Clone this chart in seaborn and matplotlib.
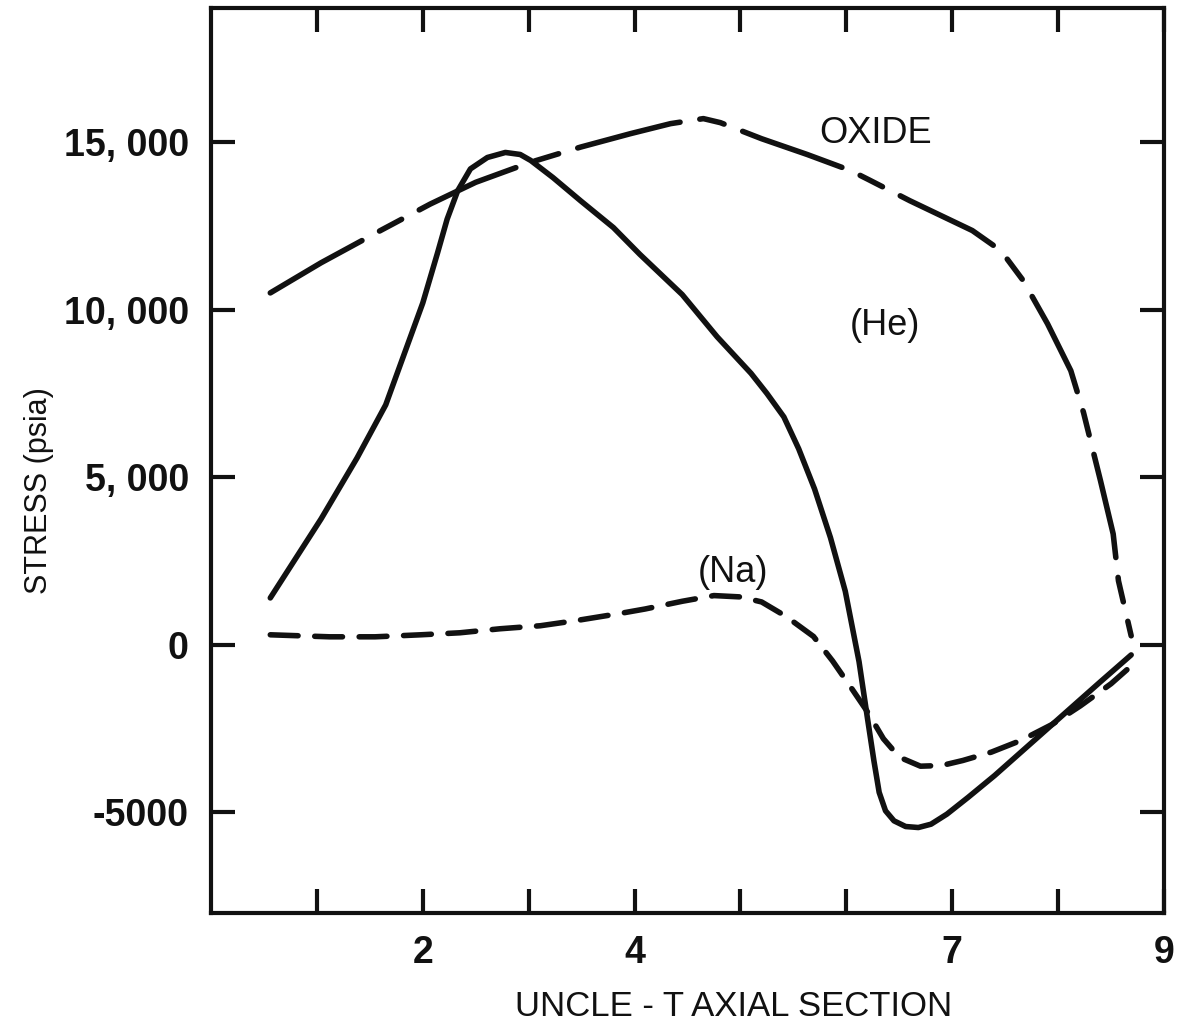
import matplotlib
matplotlib.use("Agg")
import matplotlib.pyplot as plt
from matplotlib import font_manager
import seaborn as sns
import numpy as np
import pandas as pd

# ---- data ----
he_x = [0.56, 1.04, 1.38, 1.65, 2.00, 2.14, 2.23, 2.33, 2.45, 2.61, 2.78, 2.92, 3.02, 3.23,
        3.49, 3.80, 4.05, 4.45, 4.78, 5.10, 5.25, 5.41, 5.55, 5.70, 5.85, 5.99, 6.12, 6.20,
        6.26, 6.31, 6.37, 6.45, 6.56, 6.68, 6.80, 6.95, 7.15, 7.40, 7.65, 7.90, 8.15, 8.40,
        8.69]
he_y = [1400, 3760, 5580, 7160, 10200, 11700, 12700, 13550, 14200, 14540, 14690, 14630, 14450, 13940,
        13250, 12450, 11650, 10450, 9190, 8100, 7500, 6800, 5850, 4650, 3200, 1600, -500, -2200,
        -3450, -4400, -4950, -5250, -5420, -5450, -5350, -5050, -4550, -3900, -3200, -2500, -1800, -1100,
        -300]

oxide_x = [0.56, 1.04, 1.60, 2.07, 2.50, 3.02, 3.49, 3.96, 4.34, 4.65, 4.81, 5.20, 5.63,
           6.04, 6.21, 6.60, 7.19, 7.46, 7.67, 7.90, 8.12, 8.24, 8.40, 8.52, 8.57, 8.69]
oxide_y = [10500, 11400, 12360, 13150, 13800, 14400, 14850, 15250, 15550, 15700, 15580, 15100, 14630,
           14150, 13880, 13250, 12360, 11760, 10870, 9580, 8180, 6930, 4900, 3310, 1910, 270]

na_x = [0.56, 1.12, 1.55, 1.98, 2.35, 2.73, 3.11, 3.44, 3.85, 4.10, 4.45, 4.75, 5.00, 5.20,
        5.43, 5.69, 5.87, 6.05, 6.20, 6.35, 6.50, 6.70, 6.90, 7.10, 7.37, 7.65, 7.94, 8.21,
        8.50, 8.69]
na_y = [300, 240, 240, 300, 360, 480, 570, 720, 930, 1070, 1300, 1470, 1430, 1280,
        850, 250, -480, -1300, -2000, -2800, -3350, -3620, -3600, -3450, -3200, -2850, -2380, -1820,
        -1160, -630]

x_ticks = [1, 2, 3, 4, 5, 6, 7, 8, 9]
x_ticklabels = ["", "2", "", "4", "", "", "7", "", "9"]
y_ticks = [15000, 10000, 5000, 0, -5000]
y_ticklabels = ["15, 000", "10, 000", "5, 000", "0", "-5000"]

sns.set_theme(style="ticks")
installed = {f.name for f in font_manager.fontManager.ttflist}
if "Liberation Sans Narrow" in installed:
    fam, k = "Liberation Sans Narrow", 1.2
else:
    fam, k = "Liberation Sans", 1.0
plt.rcParams["font.family"] = [fam, "DejaVu Sans"]

fig = plt.figure(figsize=(11.89, 10.34), dpi=100)
ax = fig.add_axes([211 / 1189, 1 - 913 / 1034, (1164 - 211) / 1189, (913 - 8) / 1034])

ink = "#111111"
lw = 4.0
sns.lineplot(x=he_x, y=he_y, ax=ax, color=ink, lw=lw, sort=False,
             estimator=None, solid_capstyle="round", solid_joinstyle="round")
l_ox = sns.lineplot(x=oxide_x, y=oxide_y, ax=ax, color=ink, lw=lw, sort=False,
                    estimator=None).lines[-1]
l_ox.set_dashes([19, 3.6, 4.5, 3.6])
l_ox.set_dash_capstyle("round")
l_na = sns.lineplot(x=na_x, y=na_y, ax=ax, color=ink, lw=lw, sort=False,
                    estimator=None).lines[-1]
l_na.set_dashes([5, 3])
l_na.set_dash_capstyle("round")

ax.set_xlim(0, 9)
ax.set_ylim(-8000, 19000)
ax.set_xticks(x_ticks)
ax.set_xticklabels(x_ticklabels, fontsize=27 * k, fontweight="bold")
ax.set_yticks(y_ticks)
ax.set_yticklabels(y_ticklabels, fontsize=27 * k, fontweight="bold")
ax.tick_params(axis="both", direction="in", length=17, width=3, color=ink,
               top=True, right=True, labelcolor=ink)
ax.tick_params(axis="x", pad=16)
ax.tick_params(axis="y", pad=16)
for s in ax.spines.values():
    s.set_linewidth(3)
    s.set_color(ink)

ax.set_xlabel("UNCLE - T AXIAL SECTION", fontsize=25 * k, color=ink)
ax.xaxis.set_label_coords(0.548, -0.085)
ax.set_ylabel("STRESS (psia)", fontsize=22 * k, color=ink)
ax.yaxis.set_label_coords(-0.165, 0.467)

ax.text(6.28, 15250, "OXIDE", fontsize=26 * k, ha="center", va="center", color=ink)
ax.text(6.36, 9520, "(He)", fontsize=26 * k, ha="center", va="center", color=ink)
ax.text(4.93, 2150, "(Na)", fontsize=26 * k, ha="center", va="center", color=ink)

fig.savefig("out.png", dpi=100, facecolor="white")
